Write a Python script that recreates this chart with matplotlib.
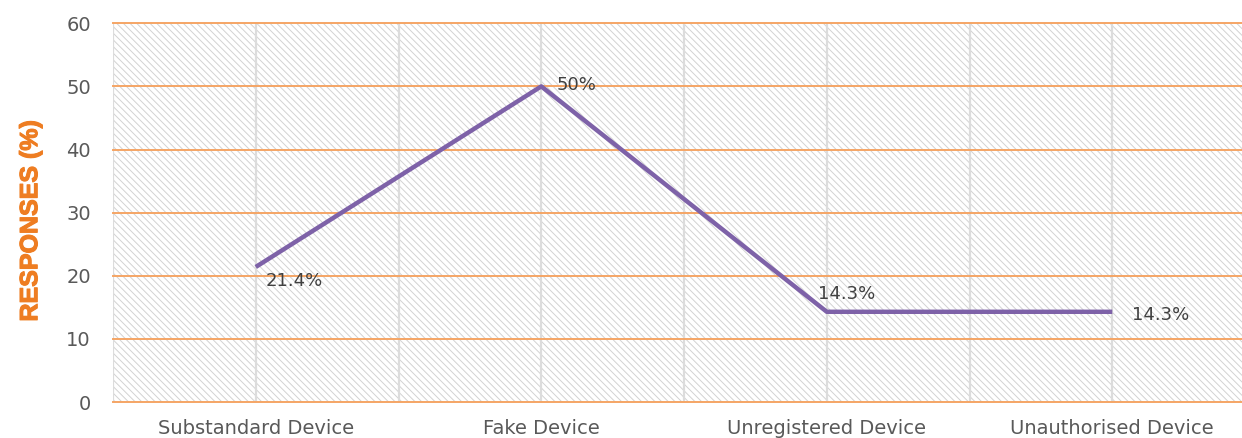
import matplotlib
matplotlib.use("Agg")
import matplotlib.pyplot as plt
import matplotlib.patheffects as pe
import numpy as np

categories = ["Substandard Device", "Fake Device", "Unregistered Device", "Unauthorised Device"]
responses = [21.4, 50, 14.3, 14.3]
labels = ["21.4%", "50%", "14.3%", "14.3%"]
yticks = [0, 10, 20, 30, 40, 50, 60]

plt.rcParams['hatch.color'] = '#d2d2d2'
plt.rcParams['hatch.linewidth'] = 0.7

fig = plt.figure(figsize=(12.42, 4.38), dpi=100)
ax = fig.add_axes([0.091, 0.082, 0.9195, 0.865])

x = np.arange(len(categories))
ax.set_xlim(-0.5, 3.5)
ax.set_ylim(0, 60)

# hatched background
ax.add_patch(plt.Rectangle((-0.5, 0), 4, 60, facecolor='white', edgecolor='#d2d2d2',
                           hatch='\\' * 5, lw=0, zorder=0))

# vertical grid at centers and boundaries
for v in np.arange(-0.5, 3.6, 0.5):
    ax.axvline(v, color='#dcdcdc', lw=1.6, zorder=1)
for t in yticks:
    ax.axhline(t, color='#f5a565', lw=1.4, zorder=2, clip_on=False)

ax.plot(x, responses, color='#7e62a8', lw=3.2, zorder=3, solid_capstyle='butt')

offsets = [(7, -10), (11, 1), (-6, 13), (14, -2)]
for xi, yi, lab, (dx, dy) in zip(x, responses, labels, offsets):
    ax.annotate(lab, (xi, yi), xytext=(dx, dy), textcoords='offset points',
                ha='left', va='center', fontsize=13, color='#404040',
                family='DejaVu Sans', zorder=4)

ax.set_xticks(x)
ax.set_xticklabels(categories, family='DejaVu Sans', fontsize=14, color='#595959')
ax.set_yticks(yticks)
ax.set_yticklabels([str(t) for t in yticks], family='DejaVu Sans', fontsize=14, color='#595959')
ax.tick_params(length=0)
ax.tick_params(axis='y', pad=16)
ax.tick_params(axis='x', pad=12)
for s in ax.spines.values():
    s.set_visible(False)

ax.set_ylabel("RESPONSES (%)", family='Liberation Sans', fontweight='bold',
              fontsize=18, color='#ee7d22',
              path_effects=[pe.withStroke(linewidth=0.8, foreground='#ee7d22')])
ax.yaxis.set_label_coords(-0.062, 0.478)

fig.savefig("out.png", dpi=100)
